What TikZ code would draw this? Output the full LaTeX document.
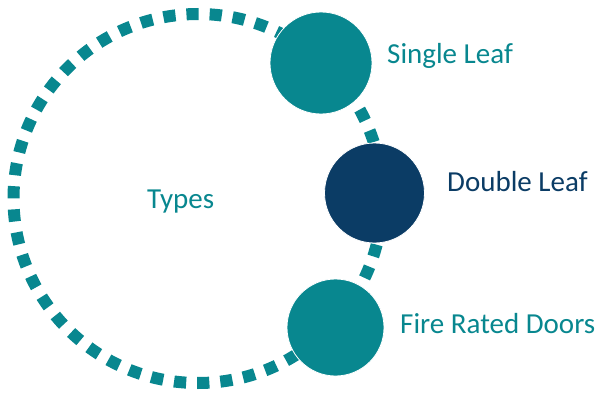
\documentclass[tikz,border=0pt]{standalone}
\usepackage{fontspec}
\setmainfont{Carlito}
\definecolor{tealc}{RGB}{8,135,143}
\definecolor{navyc}{RGB}{11,60,101}
\begin{document}
\begin{tikzpicture}[x=1pt,y=1pt,
  ring/.style={draw=tealc,line width=12pt,dash pattern=on 12.2pt off 10.98pt,dash phase=12.14pt},
  dot/.style={circle,inner sep=0pt,draw=white,line width=0.8pt},
  lbl/.style={anchor=base west,inner sep=0pt,font=\fontsize{29}{35}\selectfont}]
\useasboundingbox (0,0) rectangle (600,392);
\coordinate (c) at (198,193.5);
\draw[ring] (c) circle (184.5);
\node[dot,fill=tealc,minimum size=102pt] (single) at (321,329) {};
\node[dot,fill=navyc,minimum size=100pt] (double) at (374.5,199) {};
\node[dot,fill=tealc,minimum size=97pt] (fire) at (335.5,64.5) {};
\node[lbl,text=tealc] (types) at (147,184) {Types};
\node[lbl,text=tealc] (tsingle) at (387,329) {Single Leaf};
\node[lbl,text=navyc] (tdouble) at (447,200.3) {Double Leaf};
\node[lbl,text=tealc] (tfire) at (400,58.7) {Fire Rated Doors};
\end{tikzpicture}
\end{document}
